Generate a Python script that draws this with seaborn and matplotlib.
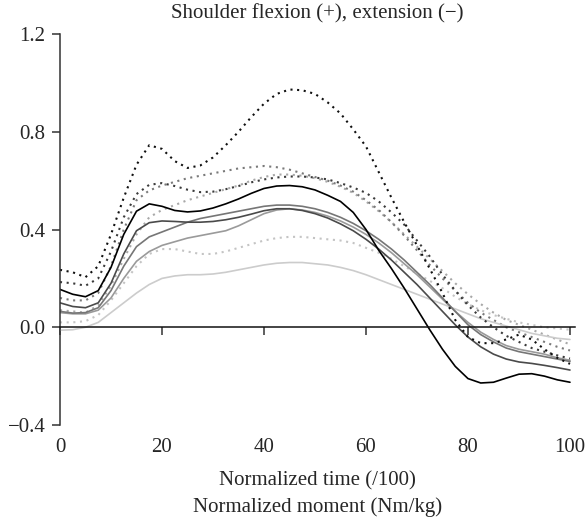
import numpy as np
import pandas as pd
import matplotlib
matplotlib.use("Agg")
import matplotlib.pyplot as plt
import seaborn as sns

# ---- data -------------------------------------------------------------
time = [0, 2.5, 5, 7.5, 10, 12.5, 15, 17.5, 20, 22.5, 25, 27.5, 30, 32.5, 35,
        37.5, 40, 42.5, 45, 47.5, 50, 52.5, 55, 57.5, 60, 62.5, 65, 67.5, 70,
        72.5, 75, 77.5, 80, 82.5, 85, 87.5, 90, 92.5, 95, 97.5, 100]

solid_black = [0.155, 0.135, 0.125, 0.15, 0.245, 0.38, 0.475, 0.505, 0.495, 0.478,
               0.472, 0.476, 0.488, 0.505, 0.525, 0.548, 0.568, 0.578, 0.58, 0.575,
               0.562, 0.54, 0.515, 0.47, 0.40, 0.315, 0.24, 0.16, 0.075, -0.01,
               -0.09, -0.16, -0.21, -0.228, -0.225, -0.208, -0.192, -0.19, -0.2,
               -0.215, -0.225]
solid_dark = [0.10, 0.085, 0.08, 0.10, 0.18, 0.30, 0.395, 0.428, 0.435, 0.433,
              0.43, 0.43, 0.433, 0.44, 0.45, 0.463, 0.477, 0.485, 0.485, 0.478,
              0.465, 0.447, 0.423, 0.395, 0.36, 0.32, 0.275, 0.225, 0.175, 0.12,
              0.065, 0.01, -0.04, -0.08, -0.11, -0.13, -0.142, -0.148, -0.156,
              -0.165, -0.175]
solid_mid = [0.065, 0.058, 0.06, 0.08, 0.15, 0.25, 0.33, 0.37, 0.39, 0.41,
             0.43, 0.445, 0.455, 0.465, 0.475, 0.485, 0.495, 0.5, 0.5, 0.495,
             0.485, 0.47, 0.45, 0.425, 0.395, 0.36, 0.32, 0.275, 0.225, 0.175,
             0.12, 0.065, 0.01, -0.03, -0.06, -0.085, -0.1, -0.11, -0.12,
             -0.13, -0.14]
solid_light = [0.06, 0.055, 0.055, 0.07, 0.12, 0.2, 0.27, 0.31, 0.335, 0.35,
               0.365, 0.375, 0.385, 0.395, 0.415, 0.44, 0.465, 0.48, 0.485, 0.48,
               0.47, 0.455, 0.435, 0.41, 0.38, 0.345, 0.305, 0.26, 0.215, 0.165,
               0.115, 0.065, 0.02, -0.02, -0.05, -0.075, -0.09, -0.1, -0.11,
               -0.125, -0.135]
solid_pale = [-0.012, -0.01, 0.0, 0.02, 0.06, 0.1, 0.14, 0.175, 0.2, 0.21,
              0.215, 0.215, 0.218, 0.225, 0.235, 0.245, 0.255, 0.262, 0.265, 0.265,
              0.26, 0.255, 0.245, 0.232, 0.215, 0.195, 0.175, 0.155, 0.135, 0.115,
              0.095, 0.075, 0.055, 0.035, 0.02, 0.005, -0.01, -0.025, -0.035,
              -0.045, -0.05]
dot_black = [0.235, 0.225, 0.205, 0.25, 0.38, 0.53, 0.665, 0.745, 0.73, 0.68,
             0.652, 0.662, 0.695, 0.745, 0.80, 0.86, 0.915, 0.955, 0.973, 0.97,
             0.955, 0.92, 0.875, 0.81, 0.74, 0.635, 0.53, 0.43, 0.335, 0.24,
             0.14, 0.03, -0.04, -0.065, -0.065, -0.05, -0.03, -0.05, -0.09,
             -0.125, -0.15]
dot_dark = [0.185, 0.18, 0.17, 0.20, 0.31, 0.45, 0.545, 0.583, 0.59, 0.578,
            0.563, 0.553, 0.555, 0.565, 0.578, 0.593, 0.605, 0.613, 0.617, 0.617,
            0.613, 0.605, 0.59, 0.572, 0.55, 0.515, 0.47, 0.42, 0.355, 0.29,
            0.215, 0.15, 0.09, 0.04, 0.0, -0.035, -0.06, -0.085, -0.1,
            -0.115, -0.128]
dot_mid = [0.12, 0.11, 0.11, 0.14, 0.25, 0.40, 0.52, 0.56, 0.58, 0.595,
           0.61, 0.62, 0.63, 0.64, 0.65, 0.655, 0.66, 0.655, 0.645, 0.63,
           0.615, 0.6, 0.58, 0.555, 0.52, 0.48, 0.43, 0.375, 0.315, 0.255,
           0.2, 0.15, 0.1, 0.06, 0.03, 0.0, -0.02, -0.04, -0.06,
           -0.08, -0.095]
dot_light = [0.07, 0.065, 0.06, 0.09, 0.17, 0.28, 0.38, 0.45, 0.48, 0.5,
             0.52, 0.535, 0.55, 0.565, 0.58, 0.6, 0.615, 0.625, 0.625, 0.62,
             0.61, 0.595, 0.575, 0.55, 0.515, 0.475, 0.43, 0.38, 0.33, 0.28,
             0.23, 0.18, 0.135, 0.095, 0.06, 0.03, 0.01, -0.01, -0.03,
             -0.05, -0.07]
dot_pale = [0.02, 0.02, 0.025, 0.05, 0.11, 0.18, 0.25, 0.3, 0.32, 0.32,
            0.31, 0.30, 0.30, 0.31, 0.325, 0.34, 0.355, 0.365, 0.37, 0.37,
            0.365, 0.36, 0.355, 0.345, 0.325, 0.305, 0.28, 0.25, 0.22, 0.19,
            0.16, 0.125, 0.095, 0.07, 0.05, 0.035, 0.02, 0.01, 0.0,
            -0.005, -0.01]

y_ticks = [-0.4, 0.0, 0.4, 0.8, 1.2]
y_tick_labels = ["\u22120.4", "0.0", "0.4", "0.8", "1.2"]
x_ticks = [0, 20, 40, 60, 80, 100]
x_tick_labels = ["0", "20", "40", "60", "80", "100"]

series = [
    ("pale dotted", dot_pale, "#c4c4c4", "dot"),
    ("light dotted", dot_light, "#a8a8a8", "dot"),
    ("mid dotted", dot_mid, "#7a7a7a", "dot"),
    ("pale solid", solid_pale, "#cccccc", "solid"),
    ("light solid", solid_light, "#9a9a9a", "solid"),
    ("mid solid", solid_mid, "#767676", "solid"),
    ("dark solid", solid_dark, "#4a4a4a", "solid"),
    ("dark dotted", dot_dark, "#3a3a3a", "dot"),
    ("black dotted", dot_black, "#101010", "dot"),
    ("black solid", solid_black, "#000000", "solid"),
]

# ---- figure -----------------------------------------------------------
sns.set_style("white")
plt.rcParams["font.family"] = ["Liberation Serif", "DejaVu Serif"]
plt.rcParams["axes.unicode_minus"] = True

FS = 15

fig = plt.figure(figsize=(5.87, 5.22), dpi=100)
ax = fig.add_axes([0.1022, 0.1858, 0.8775, 0.7490])

for name, vals, col, sty in series:
    df = pd.DataFrame({"t": time, "v": vals})
    ls = (0, (1.0, 2.2)) if sty == "dot" else "-"
    lw = 1.5 if sty == "dot" else 1.2
    sns.lineplot(data=df, x="t", y="v", ax=ax, color=col, linestyle=ls,
                 linewidth=lw, sort=False, legend=False)

ax.set_xlim(0, 101)
ax.set_ylim(-0.4, 1.2)
ax.set_xlabel("")
ax.set_ylabel("")

for s in ["top", "right"]:
    ax.spines[s].set_visible(False)
ax.spines["left"].set_color("#333333")
ax.spines["left"].set_linewidth(1.1)
ax.spines["bottom"].set_position(("data", 0))
ax.spines["bottom"].set_color("#111111")
ax.spines["bottom"].set_linewidth(1.1)
ax.spines["bottom"].set_bounds(0, 101)

ax.set_yticks(y_ticks)
ax.set_yticklabels(y_tick_labels)
ax.tick_params(axis="y", direction="out", length=5.5, width=1.1, color="#333333",
               labelsize=FS, pad=5, left=True)
ax.set_xticks(x_ticks)
ax.tick_params(axis="x", direction="out", length=5.5, width=1.1, color="#333333",
               labelbottom=False, bottom=True)

sec = ax.secondary_xaxis("bottom")
sec.set_xticks(x_ticks)
sec.set_xticklabels(x_tick_labels)
sec.tick_params(axis="x", length=0, labelsize=FS, pad=9.5)
sec.spines["bottom"].set_visible(False)
sec.set_xlabel("Normalized time (/100)\nNormalized moment (Nm/kg)",
               fontsize=FS, linespacing=1.5, labelpad=10)

ax.set_title("Shoulder flexion (+), extension (\u2212)", fontsize=FS, pad=11.5)

fig.savefig("out.png", dpi=100)
